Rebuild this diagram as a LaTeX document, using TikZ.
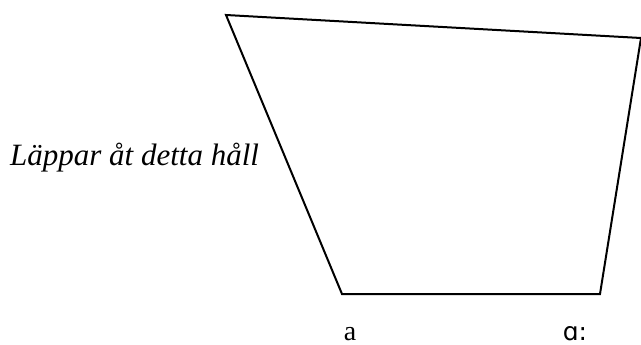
\documentclass[tikz,border=0pt]{standalone}
\usepackage{fontspec}
\setmainfont{Liberation Serif}
\newfontfamily\ipafont{DejaVu Sans}
\usepackage{tikz}
\usetikzlibrary{positioning,calc}

\begin{document}
\begin{tikzpicture}[
  x=1pt, y=-1pt,
  edge/.style={draw, line width=2pt, line join=miter},
  lbl/.style={font=\fontsize{31}{34}\selectfont\itshape, inner sep=0pt, anchor=base west},
  vowel/.style={font=\fontsize{28}{32}\selectfont, inner sep=0pt, anchor=base}
]
\useasboundingbox (0,0) rectangle (641,345);

% corners of the vowel space
\coordinate (tl) at (226,15);
\coordinate (tr) at (641,38);
\coordinate (br) at (600,294);
\coordinate (bl) at (342,294);

\draw[edge] (tr) -- (tl) -- (bl) -- (br) -- (tr);

% labels
\node[lbl] (lips) at (10,166) {Läppar åt detta håll};
\node[vowel] (front) at (350,340) {a};
\node[vowel, font=\fontsize{25}{30}\selectfont\ipafont] (back) at (575,340) {ɑ:};

\end{tikzpicture}
\end{document}
